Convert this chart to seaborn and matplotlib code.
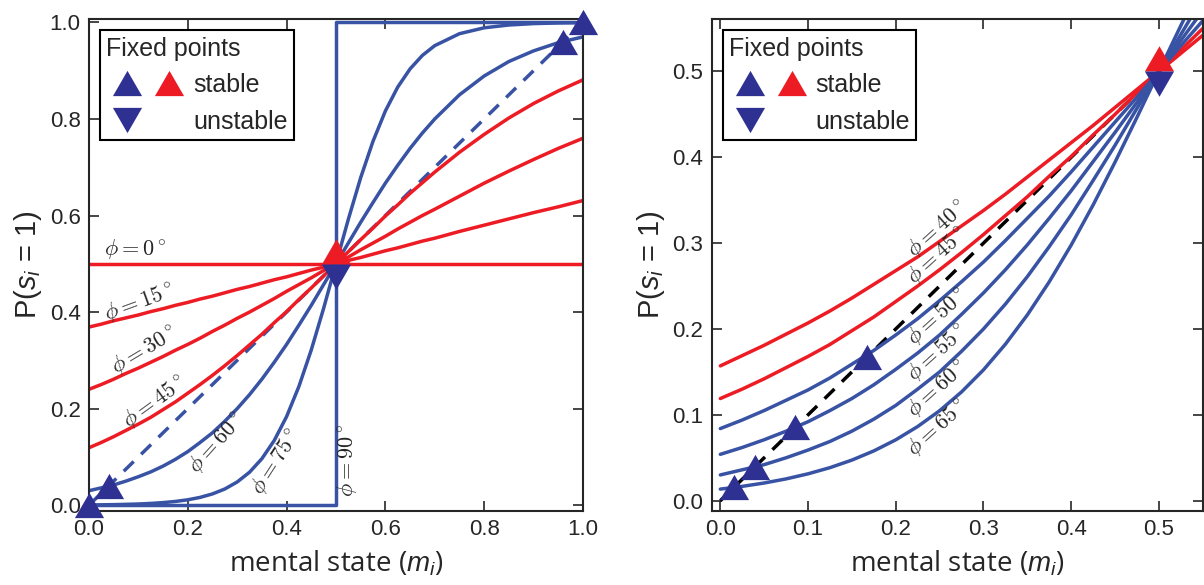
import matplotlib
matplotlib.use("Agg")
import matplotlib.pyplot as plt
from matplotlib.lines import Line2D
from matplotlib.legend_handler import HandlerTuple
import seaborn as sns

# mental state grid and P(s_i = 1)
M_LEFT = [0.0, 0.025, 0.05, 0.075, 0.1, 0.125, 0.15, 0.175, 0.2, 0.225, 0.25, 0.275,
          0.3, 0.325, 0.35, 0.375, 0.4, 0.425, 0.45, 0.475, 0.5, 0.525, 0.55, 0.575,
          0.6, 0.625, 0.65, 0.675, 0.7, 0.75, 0.8, 0.85, 0.9, 0.95, 1.0]
M_RIGHT = [0.0, 0.025, 0.05, 0.075, 0.1, 0.125, 0.15, 0.175, 0.2, 0.225, 0.25, 0.275,
           0.3, 0.325, 0.35, 0.375, 0.4, 0.425, 0.45, 0.475, 0.5, 0.525, 0.55]

M_PHI0 = [0.0, 1.0]
P_PHI0 = [0.5, 0.5]
P_PHI15 = [0.369, 0.375, 0.382, 0.388, 0.394, 0.401, 0.407, 0.414, 0.420, 0.427, 0.433, 0.440,
           0.447, 0.453, 0.460, 0.467, 0.473, 0.480, 0.487, 0.493, 0.500, 0.507, 0.513, 0.520,
           0.527, 0.533, 0.540, 0.547, 0.553, 0.567, 0.580, 0.593, 0.606, 0.618, 0.631]
P_PHI30 = [0.240, 0.250, 0.261, 0.273, 0.284, 0.296, 0.308, 0.321, 0.333, 0.346, 0.360, 0.373,
           0.387, 0.400, 0.414, 0.428, 0.443, 0.457, 0.471, 0.486, 0.500, 0.514, 0.529, 0.543,
           0.557, 0.572, 0.586, 0.600, 0.613, 0.640, 0.667, 0.692, 0.716, 0.739, 0.760]
P_PHI45 = [0.119, 0.130, 0.142, 0.155, 0.168, 0.182, 0.198, 0.214, 0.232, 0.250, 0.269, 0.289,
           0.310, 0.332, 0.354, 0.378, 0.401, 0.426, 0.450, 0.475, 0.500, 0.525, 0.550, 0.574,
           0.599, 0.622, 0.646, 0.668, 0.690, 0.731, 0.768, 0.802, 0.832, 0.858, 0.881]
P_PHI60 = [0.030, 0.036, 0.042, 0.050, 0.059, 0.069, 0.081, 0.095, 0.111, 0.130, 0.150, 0.174,
           0.200, 0.229, 0.261, 0.296, 0.333, 0.373, 0.414, 0.457, 0.500, 0.543, 0.586, 0.627,
           0.667, 0.704, 0.739, 0.771, 0.800, 0.850, 0.889, 0.919, 0.941, 0.958, 0.970]
P_PHI75 = [0.0006, 0.0008, 0.0012, 0.0018, 0.0025, 0.0037, 0.0054, 0.0078, 0.0112, 0.0162,
           0.0234, 0.0336, 0.0481, 0.0683, 0.0963, 0.134, 0.1835, 0.2461, 0.3216, 0.4078,
           0.500, 0.5922, 0.6784, 0.7539, 0.8165, 0.866, 0.9037, 0.9317, 0.9519, 0.9766,
           0.9888, 0.9946, 0.9975, 0.9988, 0.9994]
M_PHI90 = [0.0, 0.5, 0.5, 1.0]
P_PHI90 = [0.0, 0.0, 1.0, 1.0]

P_PHI40 = [0.157, 0.169, 0.181, 0.194, 0.207, 0.221, 0.236, 0.252, 0.268, 0.284, 0.302, 0.320,
           0.338, 0.357, 0.377, 0.397, 0.417, 0.437, 0.458, 0.479, 0.500, 0.521, 0.542]
P_PHI50 = [0.084, 0.094, 0.105, 0.117, 0.129, 0.143, 0.159, 0.175, 0.193, 0.212, 0.233, 0.255,
           0.278, 0.303, 0.329, 0.355, 0.383, 0.412, 0.441, 0.470, 0.500, 0.530, 0.559]
P_PHI55 = [0.054, 0.062, 0.071, 0.081, 0.092, 0.105, 0.119, 0.135, 0.153, 0.172, 0.193, 0.217,
           0.242, 0.269, 0.298, 0.329, 0.361, 0.395, 0.429, 0.464, 0.500, 0.536, 0.571]
P_PHI65 = [0.0135, 0.0167, 0.0206, 0.0254, 0.0313, 0.0385, 0.0473, 0.058, 0.0709, 0.0864,
           0.1048, 0.1267, 0.1524, 0.1823, 0.2164, 0.255, 0.2978, 0.3445, 0.3944, 0.4466,
           0.500, 0.5534, 0.6056]

DIAG = [0.0, 1.0]
DIAG_RIGHT = [0.0, 0.5]

# fixed points
STABLE_LEFT = [0.0, 0.04, 0.96, 1.0]
STABLE_RIGHT = [0.0155, 0.0396, 0.0855, 0.167]
CENTER = [0.5]

# curve labels: (text, x, y, rotation)
LABELS_LEFT = [(r"$\phi=0^\circ$", 0.093, 0.530, 0),
               (r"$\phi=15^\circ$", 0.101, 0.420, 20),
               (r"$\phi=30^\circ$", 0.111, 0.321, 31),
               (r"$\phi=45^\circ$", 0.132, 0.215, 36),
               (r"$\phi=60^\circ$", 0.259, 0.130, 48),
               (r"$\phi=75^\circ$", 0.379, 0.089, 57),
               (r"$\phi=90^\circ$", 0.522, 0.093, 90)]
LABELS_RIGHT = [(r"$\phi=40^\circ$", 0.2466, 0.317, 42),
                (r"$\phi=45^\circ$", 0.2466, 0.286, 42),
                (r"$\phi=50^\circ$", 0.2466, 0.214, 42),
                (r"$\phi=55^\circ$", 0.2466, 0.172, 42),
                (r"$\phi=60^\circ$", 0.2466, 0.131, 42),
                (r"$\phi=65^\circ$", 0.2466, 0.085, 42)]

RED = "#ED1C24"
BLUE = "#3953A4"
NAVY = "#2E3192"

UP = [(-1, -0.866), (1, -0.866), (0, 0.866)]
DOWN = [(-1, 0.866), (1, 0.866), (0, -0.866)]
UP_HALF = [(-1, 0), (1, 0), (0, 1.732)]
DOWN_HALF = [(-1, 0), (1, 0), (0, -1.732)]
TRI = 21

sns.set_style("ticks")
plt.rcParams["font.family"] = ["Liberation Sans", "DejaVu Sans"]
plt.rcParams["mathtext.fontset"] = "custom"
plt.rcParams["mathtext.rm"] = "Liberation Sans"
plt.rcParams["mathtext.it"] = "Liberation Sans:italic"


def curve(ax, x, y, color, ls="-", z=2):
    sns.lineplot(x=x, y=y, ax=ax, color=color, lw=2.5, linestyle=ls,
                 estimator=None, sort=False, zorder=z)


def points(ax, xs, marker, color, size=TRI):
    sns.scatterplot(x=xs, y=xs, ax=ax, marker=marker, s=size ** 2, color=color,
                    linewidth=0, clip_on=False, zorder=6)


def center_points(ax):
    points(ax, CENTER, UP_HALF, RED, TRI * 1.732)
    points(ax, CENTER, DOWN_HALF, NAVY, TRI * 1.732)


def style_axes(ax):
    ax.tick_params(direction="in", top=True, right=True, length=7, width=1.2,
                   labelsize=16, pad=6)
    for sp in ax.spines.values():
        sp.set_linewidth(1.5)
    ax.set_xlabel(r"mental state ($m_i$)", fontsize=20, family="Open Sans", labelpad=6)
    ax.set_ylabel(r"P($s_i$ = 1)", fontsize=21, labelpad=4)
    h_ub = Line2D([], [], ls="none", marker=UP, ms=TRI, mfc=NAVY, mec="none")
    h_ur = Line2D([], [], ls="none", marker=UP, ms=TRI, mfc=RED, mec="none")
    h_d = Line2D([], [], ls="none", marker=DOWN, ms=TRI, mfc=NAVY, mec="none")
    h_blank = Line2D([], [], ls="none")
    leg = ax.legend([(h_ub, h_ur), (h_d, h_blank)], ["stable", "unstable"],
                    handler_map={tuple: HandlerTuple(ndivide=None, pad=0)},
                    loc="upper left", title="Fixed points", fontsize=18, title_fontsize=18,
                    alignment="left", frameon=True, fancybox=False, edgecolor="black",
                    framealpha=1, handlelength=3.36, handletextpad=0.1, labelspacing=0.5,
                    borderpad=0.25, borderaxespad=0.45)
    leg.get_frame().set_linewidth(1.5)
    leg.set_zorder(10)


fig = plt.figure(figsize=(12.04, 5.85), dpi=100)
ax1 = fig.add_axes([0.0739, 0.1265, 0.4103, 0.841])
ax2 = fig.add_axes([0.591, 0.1265, 0.408, 0.841])

# left panel
curve(ax1, DIAG, DIAG, BLUE, ls=(0, (4, 3)), z=1)
curve(ax1, M_PHI0, P_PHI0, RED)
for p in [P_PHI15, P_PHI30, P_PHI45]:
    curve(ax1, M_LEFT, p, RED)
for p in [P_PHI60, P_PHI75]:
    curve(ax1, M_LEFT, p, BLUE)
curve(ax1, M_PHI90, P_PHI90, BLUE)
points(ax1, STABLE_LEFT, UP, NAVY)
center_points(ax1)
for txt, x, y, r in LABELS_LEFT:
    ax1.text(x, y, txt, rotation=r, rotation_mode="anchor", ha="center", va="center",
             fontsize=16, math_fontfamily="cm")
ax1.set_xlim(0, 1)
ax1.set_ylim(-0.012, 1.007)
ax1.set_xticks([0, 0.2, 0.4, 0.6, 0.8, 1.0])
ax1.set_yticks([0, 0.2, 0.4, 0.6, 0.8, 1.0])
style_axes(ax1)

# right panel
curve(ax2, DIAG_RIGHT, DIAG_RIGHT, "black", ls=(0, (4, 3)), z=1)
n = len(M_RIGHT)
for p in [P_PHI40, P_PHI45[:n]]:
    curve(ax2, M_RIGHT, p, RED)
for p in [P_PHI50, P_PHI55, P_PHI60[:n], P_PHI65]:
    curve(ax2, M_RIGHT, p, BLUE)
points(ax2, STABLE_RIGHT, UP, NAVY)
center_points(ax2)
for txt, x, y, r in LABELS_RIGHT:
    ax2.text(x, y, txt, rotation=r, rotation_mode="anchor", ha="center", va="center",
             fontsize=16, math_fontfamily="cm")
ax2.set_xlim(-0.01, 0.55)
ax2.set_ylim(-0.012, 0.561)
ax2.set_xticks([0, 0.1, 0.2, 0.3, 0.4, 0.5])
ax2.set_yticks([0, 0.1, 0.2, 0.3, 0.4, 0.5])
style_axes(ax2)

fig.savefig("out.png", dpi=100)
